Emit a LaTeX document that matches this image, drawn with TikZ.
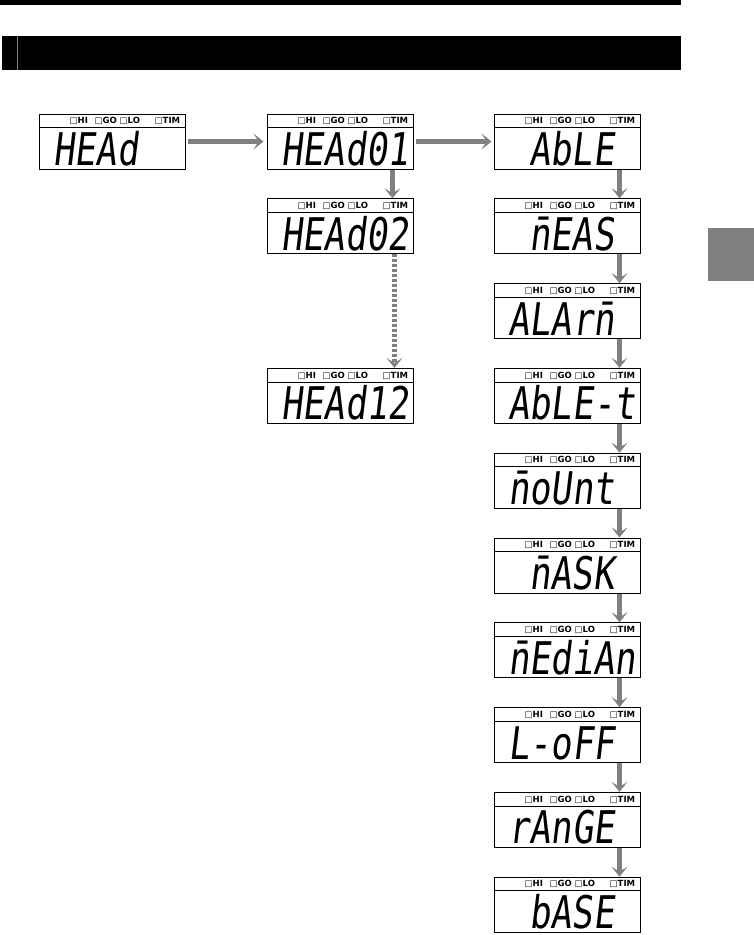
\documentclass[tikz,border=0pt]{standalone}
\usepackage{fontspec}
\usepackage{tikz}
\usetikzlibrary{arrows.meta,positioning,calc}
\newfontfamily\segfont[FakeStretch=0.78,FakeSlant=0.12]{DejaVu Sans Mono}
\newfontfamily\lampfont{DejaVu Sans}
\definecolor{arrowgray}{gray}{0.5}
\newcommand{\lamps}{\makebox[25pt][l]{□HI}\makebox[25pt][l]{□GO}\makebox[35pt][l]{□LO}□TIM}

\begin{document}
\begin{tikzpicture}[x=1pt, y=1pt,
    lcd/.style={draw, line width=1pt, minimum width=146pt, minimum height=55pt, inner sep=0pt},
    lamp/.style={font=\lampfont\bfseries\fontsize{8.5}{9}\selectfont, inner sep=0pt, anchor=west},
    segtext/.style={font=\segfont\fontsize{45}{45}\selectfont, inner sep=0pt, anchor=base west},
    arrow/.style={-{Stealth[length=10pt, width=16pt, inset=5pt]}, line width=4.5pt, draw=arrowgray}
]
\useasboundingbox (0,0) rectangle (754,-935);
% page header and side tab
\fill (0,0) rectangle (681,-5);
\fill (2,-36) rectangle (681,-70);
\draw[gray, line width=0.8pt] (17,-36) -- (17,-70);
\fill[arrowgray] (708,-228) rectangle (754,-281);

% displays
\node[lcd] (head) at (112,-141.5) {};
\node[lcd, right=81pt of head] (head01) {};
\node[lcd, right=80pt of head01] (able) {};
\node[lcd, below=28.8pt of head01] (head02) {};
\foreach \nm [remember=\nm as \prev (initially able)] in {meas,alarm,ablet,mount,mask,median,loff,range,base}{
  \node[lcd, below=28.8pt of \prev] (\nm) {};
  \draw[arrow] ([xshift=-21pt]\prev.south east) -- ([xshift=-21pt]\nm.north east);
}
\node[lcd] (head12) at (head01 |- ablet) {};

% lamp row and readout
\foreach \nm/\txt/\k in {head/HEAd/0, head01/HEAd01/0, head02/HEAd02/0, head12/HEAd12/0,
    able/AbLE/1, meas/{\={n}EAS}/1, alarm/{ALAr\={n}}/0, ablet/AbLE-t/0, mount/{\={n}oUnt}/0,
    mask/{\={n}ASK}/1, median/{\={n}EdiAn}/0, loff/L-oFF/0, range/rAnGE/0, base/bASE/1}{
  \draw[line width=0.8pt] ([yshift=-14pt]\nm.north west) -- ([yshift=-14pt]\nm.north east);
  \node[lamp] (\nm-lamps) at ([xshift=31pt, yshift=-7.5pt]\nm.north west) {\lamps};
  \node[segtext] (\nm-txt) at ([xshift=15pt+21pt*\k, yshift=4pt]\nm.south west) {\txt};
}

\draw[arrow, shorten <=2pt, shorten >=3pt] (head) -- (head01);
\draw[arrow, shorten <=2pt, shorten >=2pt] (head01) -- (able);
\draw[arrow] ([xshift=-21pt]head01.south east) -- ([xshift=-21pt]head02.north east);
\draw[arrow, dash pattern=on 3pt off 2pt] ([xshift=-19pt]head02.south east) -- ([xshift=-19pt]head12.north east);
\end{tikzpicture}
\end{document}
